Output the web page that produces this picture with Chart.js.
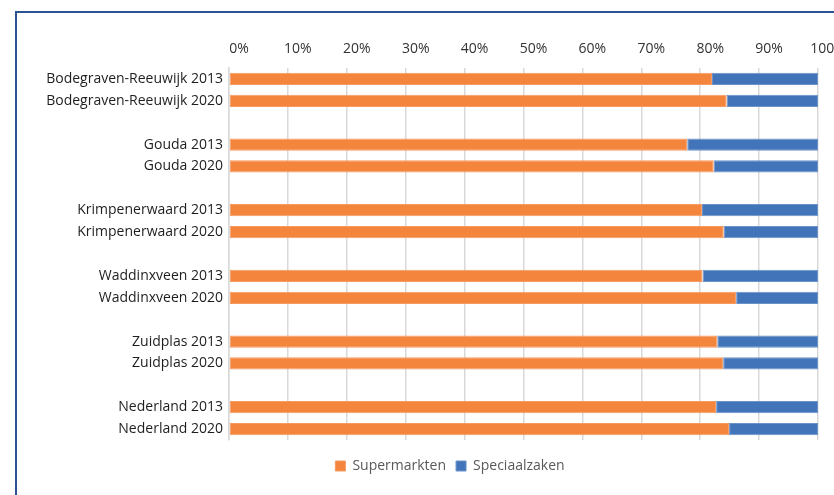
<!DOCTYPE html>
<html>
<head>
<meta charset="utf-8">
<script src="https://cdn.jsdelivr.net/npm/chart.js@4/dist/chart.umd.min.js"></script>
<style>
html,body{margin:0;padding:0;background:#fff;overflow:hidden}
#wrap{position:relative;width:834px;height:495px}
#frame{position:absolute;left:15px;top:11px;width:900px;height:600px;border-left:2px solid #2B5391;border-top:2px solid #2B5391}
canvas{position:absolute;left:0;top:0}
</style>
</head>
<body>
<div id="wrap">
<div id="frame"></div>
<canvas id="c" width="834" height="495"></canvas>
</div>
<script>
const labels=["Bodegraven-Reeuwijk 2013","Bodegraven-Reeuwijk 2020","",
"Gouda 2013","Gouda 2020","",
"Krimpenerwaard 2013","Krimpenerwaard 2020","",
"Waddinxveen 2013","Waddinxveen 2020","",
"Zuidplas 2013","Zuidplas 2020","",
"Nederland 2013","Nederland 2020"]
const supermarkten=[82,84.5,null,77.8,82.3,null,80.3,84,null,80.4,86.1,null,82.9,83.9,null,82.7,84.9]
const speciaalzaken=supermarkten.map(v=>v==null?null:+(100-v).toFixed(1))
const xTicks=[0,10,20,30,40,50,60,70,80,90,100]

const font={family:"'Open Sans', sans-serif",size:14}

// the source chart is wider than the crop, so its legend sits right of centre
const shiftLegend={id:"shiftLegend",afterLayout:c=>{c.legend.left=82}}

new Chart(document.getElementById("c"),{
type:"bar",
data:{labels,datasets:[
{label:"Supermarkten",data:supermarkten,backgroundColor:"#F4853D",borderColor:"#F69A60",borderWidth:1,borderSkipped:false},
{label:"Speciaalzaken",data:speciaalzaken,backgroundColor:"#4274BA",borderColor:"#6D92C8",borderWidth:1,borderSkipped:false}
]},
options:{
indexAxis:"y",
responsive:false,
animation:false,
layout:{padding:{left:0,right:16,top:0,bottom:12}},
scales:{
x:{position:"top",stacked:true,min:0,max:100,
afterBuildTicks:s=>{s.ticks=xTicks.map(v=>({value:v}))},
afterFit:s=>{s.height=68;s.paddingLeft=0;s.paddingRight=0},
grid:{color:"#D9D9D9",lineWidth:1.5,drawTicks:false},
border:{display:false},
ticks:{font,color:"#333333",padding:11,labelOffset:10,maxRotation:0,callback:v=>v+"%"}},
y:{stacked:true,
afterFit:s=>{s.width=229},
grid:{drawTicks:false,color:c=>c.index===labels.length?"#D9D9D9":"rgba(0,0,0,0)",lineWidth:1.5},
border:{color:"#D9D9D9",width:1.5},
ticks:{font,color:"#1E1E1E",padding:6,autoSkip:false}},
},
datasets:{bar:{barPercentage:0.56,categoryPercentage:1}},
plugins:{
legend:{position:"bottom",
title:{display:true,text:"",padding:0,font:{size:9,lineHeight:1}},
labels:{font,color:"#595959",boxWidth:10,boxHeight:10,padding:10}},
tooltip:{enabled:false}
}
},
plugins:[shiftLegend]
})
</script>
</body>
</html>
